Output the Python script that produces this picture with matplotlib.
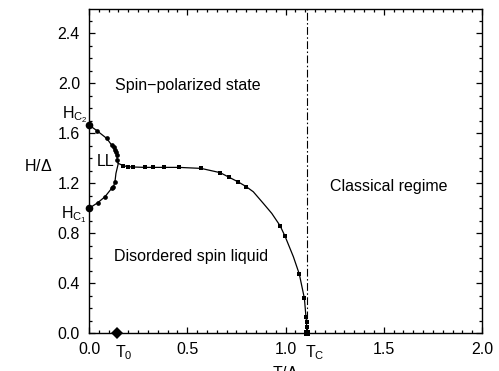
import numpy as np
import matplotlib
matplotlib.use("Agg")
import matplotlib.pyplot as plt
from matplotlib.ticker import MultipleLocator
import matplotlib.transforms as mtransforms

plt.rcParams['font.family'] = ['Liberation Sans', 'DejaVu Sans']
plt.rcParams['mathtext.fontset'] = 'custom'
plt.rcParams['mathtext.rm'] = 'Liberation Sans'
plt.rcParams['mathtext.it'] = 'Liberation Sans:italic'

# phase boundary (T/Delta, H/Delta)
upper_T = [0.0, 0.039, 0.09, 0.115, 0.132, 0.141, 0.144, 0.149]
upper_H = [1.664, 1.62, 1.557, 1.504, 1.464, 1.424, 1.384, 1.357]

lower_T = [0.0, 0.044, 0.081, 0.115, 0.124, 0.132, 0.137, 0.145, 0.149]
lower_H = [0.997, 1.042, 1.09, 1.157, 1.17, 1.21, 1.277, 1.33, 1.357]

main_T = [0.149, 0.175, 0.2, 0.226, 0.285, 0.327, 0.38, 0.457, 0.57, 0.667,
          0.714, 0.76, 0.799, 0.836, 0.887, 0.93, 0.972, 0.997, 1.04, 1.07,
          1.096, 1.104, 1.107, 1.107, 1.108]
main_H = [1.357, 1.338, 1.33, 1.328, 1.325, 1.325, 1.325, 1.325, 1.317, 1.283,
          1.245, 1.208, 1.172, 1.13, 1.037, 0.957, 0.859, 0.776, 0.61, 0.472,
          0.277, 0.13, 0.09, 0.05, 0.0]

# measured points (markers)
sq_T = [0.175, 0.2, 0.226, 0.285, 0.327, 0.38, 0.457, 0.57, 0.667, 0.714,
        0.76, 0.799, 0.972, 0.997, 1.07, 1.096, 1.104, 1.107, 1.107]
sq_H = [1.338, 1.33, 1.328, 1.325, 1.325, 1.325, 1.325, 1.317, 1.283, 1.245,
        1.208, 1.172, 0.859, 0.776, 0.472, 0.277, 0.13, 0.09, 0.05]
circ_T = [0.039, 0.09, 0.115, 0.125, 0.132, 0.137, 0.141, 0.144,
          0.044, 0.081, 0.115, 0.124, 0.132]
circ_H = [1.62, 1.557, 1.504, 1.485, 1.464, 1.445, 1.424, 1.384,
          1.042, 1.09, 1.157, 1.17, 1.21]
Hc = [0.997, 1.664]
T0 = 0.144
Tc = 1.107

fs = 11.5
fig = plt.figure(figsize=(4.99, 3.71), dpi=100)
ax = fig.add_axes([0.1784, 0.1024, 0.966 - 0.1784, 0.9757 - 0.1024])

ax.plot(upper_T, upper_H, color='black', lw=0.9)
ax.plot(lower_T, lower_H, color='black', lw=0.9)
ax.plot(main_T, main_H, color='black', lw=0.9)
ax.plot(sq_T, sq_H, 's', color='black', ms=2.8, mew=0)
ax.plot(circ_T, circ_H, 'o', color='black', ms=3.4, mew=0)
ax.plot([0, 0], Hc, 'o', color='black', ms=5.5, mew=0, clip_on=False, zorder=5)
ax.plot([Tc], [0], 's', color='black', ms=4.5, mew=0, clip_on=False, zorder=5)
ax.plot([T0], [0], 'D', color='black', ms=6, mew=0, clip_on=False, zorder=5)

ax.axvline(Tc, color='black', lw=0.8, dashes=(7, 2.2, 1.4, 2.2))

ax.set_xlim(0, 2.0)
ax.set_ylim(0, 2.592)
ax.xaxis.set_major_locator(MultipleLocator(0.5))
ax.xaxis.set_minor_locator(MultipleLocator(0.05))
ax.yaxis.set_major_locator(MultipleLocator(0.4))
ax.yaxis.set_minor_locator(MultipleLocator(0.1))
ax.set_xticks([0, 0.5, 1.0, 1.5, 2.0])
ax.set_xticklabels(['0.0', '0.5', '1.0', '1.5', '2.0'])
ax.set_yticks([0, 0.4, 0.8, 1.2, 1.6, 2.0, 2.4])
ax.set_yticklabels(['0.0', '0.4', '0.8', '1.2', '1.6', '2.0', '2.4'])
ax.tick_params(which='both', direction='in', top=True, right=True,
               labelsize=fs, width=0.9)
ax.tick_params(which='major', length=4.3, pad=6.5)
ax.tick_params(which='minor', length=2.2)
for sp in ax.spines.values():
    sp.set_linewidth(1.0)

ax.set_xlabel(r'T/$\Delta$', fontsize=fs, labelpad=6)

# region labels
ax.text(0.13, 1.98, 'Spin\u2212polarized state', fontsize=fs, va='center')
ax.text(1.227, 1.17, 'Classical regime', fontsize=fs, va='center')
ax.text(0.127, 0.61, 'Disordered spin liquid', fontsize=fs, va='center')
ax.text(0.037, 1.376, 'LL', fontsize=fs, va='center')

trans_y = mtransforms.blended_transform_factory(ax.transAxes, ax.transData)
ax.text(-0.004, 1.72, r'$\mathrm{H_{C_2}}$', fontsize=fs, ha='right',
        va='baseline', transform=trans_y)
ax.text(-0.004, 0.92, r'$\mathrm{H_{C_1}}$', fontsize=fs, ha='right',
        va='baseline', transform=trans_y)
ax.text(-0.13, 1.34, r'H/$\Delta$', fontsize=fs, ha='center', va='center',
        transform=trans_y)

trans_x = mtransforms.blended_transform_factory(ax.transData, ax.transAxes)
ax.text(0.132, -0.031, r'$\mathrm{T_0}$', fontsize=fs, ha='left', va='top',
        transform=trans_x)
ax.text(1.10, -0.031, r'$\mathrm{T_C}$', fontsize=fs, ha='left', va='top',
        transform=trans_x)

fig.savefig('out.png', dpi=100)
